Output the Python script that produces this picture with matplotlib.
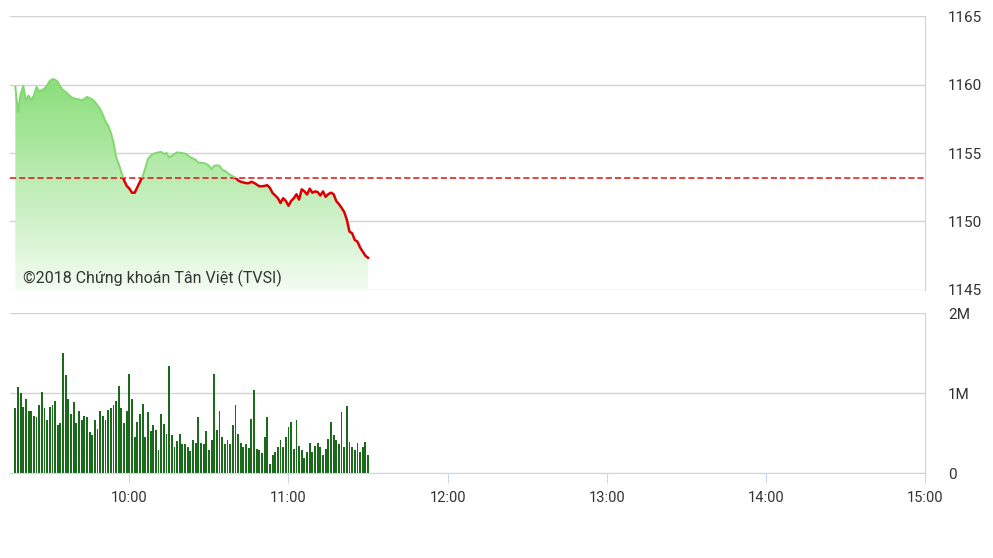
import numpy as np
import pandas as pd
import matplotlib
matplotlib.use("Agg")
import matplotlib.pyplot as plt
from matplotlib.colors import LinearSegmentedColormap
from matplotlib.patches import Polygon, Rectangle

plt.rcParams['font.family'] = ['Roboto', 'DejaVu Sans']

# session data, one point per minute from 09:17
start_time = "09:17"
price = [
    1159.83, 1158.0, 1159.3, 1159.9, 1158.85, 1159.2, 1158.85, 1159.2, 1159.83, 1159.5,
    1159.6, 1159.7, 1159.95, 1160.27, 1160.4, 1160.35, 1160.2, 1159.83, 1159.6, 1159.46,
    1159.26, 1159.1, 1159.0, 1158.95, 1158.92, 1158.85, 1158.95, 1159.1, 1159.0, 1158.92,
    1158.73, 1158.48, 1158.2, 1157.8, 1157.3, 1157.0, 1156.5, 1155.8, 1154.7, 1154.2,
    1153.6, 1153.0, 1152.6, 1152.4, 1152.1, 1152.1, 1152.5, 1152.9, 1153.3, 1153.9,
    1154.56, 1154.8, 1154.93, 1155.0, 1155.05, 1155.08, 1154.93, 1155.0, 1154.68, 1154.8,
    1154.93, 1155.05, 1155.02, 1155.0, 1154.95, 1154.85, 1154.68, 1154.6, 1154.5, 1154.3,
    1154.3, 1154.27, 1154.2, 1154.07, 1153.82, 1154.07, 1154.1, 1154.07, 1153.77, 1153.7,
    1153.55, 1153.4, 1153.3, 1153.2, 1153.0, 1152.9, 1152.85, 1152.8, 1152.8, 1152.9,
    1152.82, 1152.7, 1152.57, 1152.57, 1152.6, 1152.65, 1152.45, 1152.08, 1151.9, 1151.7,
    1151.35, 1151.7, 1151.5, 1151.15, 1151.5, 1151.7, 1151.99, 1151.6, 1152.35, 1152.2,
    1151.97, 1152.4, 1152.1, 1152.2, 1152.15, 1151.9, 1152.2, 1151.8, 1152.0, 1152.1,
    1152.0, 1151.5, 1151.27, 1151.0, 1150.7, 1150.12, 1149.26, 1149.14, 1148.65, 1148.53,
    1148.1, 1147.8, 1147.5, 1147.35,
]
# volume in millions of shares
volume = [
    0.81, 1.07, 1.00, 0.83, 0.93, 0.78, 0.78, 0.71, 0.70, 0.85, 1.01, 0.81, 0.66, 0.83, 0.85,
    0.90, 0.60, 0.62, 1.50, 1.23, 0.93, 0.74, 0.89, 0.62, 0.78, 0.66, 0.71, 0.70, 0.51, 0.48,
    0.66, 0.55, 0.78, 0.71, 0.66, 0.79, 0.81, 0.85, 0.90, 1.09, 0.81, 0.63, 0.78, 1.24,
    0.93, 0.45, 0.64, 0.74, 0.86, 0.45, 0.76, 0.53, 0.60, 0.54, 0.29, 0.74, 0.61, 0.49, 1.34,
    0.48, 0.33, 0.40, 0.49, 0.36, 0.36, 0.33, 0.27, 0.41, 0.37, 0.70, 0.37, 0.36, 0.53, 0.29,
    0.41, 1.24, 0.54, 0.78, 0.45, 0.36, 0.41, 0.36, 0.60, 0.85, 0.49, 0.37, 0.33, 0.36, 0.31,
    0.68, 1.04, 0.30, 0.29, 0.25, 0.45, 0.70, 0.11, 0.22, 0.26, 0.33, 0.41, 0.33, 0.45, 0.57,
    0.64, 0.30, 0.66, 0.34, 0.29, 0.19, 0.26, 0.37, 0.26, 0.34, 0.37, 0.32, 0.22, 0.30, 0.43,
    0.64, 0.48, 0.41, 0.36, 0.76, 0.32, 0.84, 0.39, 0.32, 0.29, 0.37, 0.26, 0.32, 0.39, 0.23,
]
reference = 1153.2
price_ticks = [1145, 1150, 1155, 1160, 1165]
volume_ticks = [0, 1, 2]
volume_labels = ["0", "1M", "2M"]
hour_labels = ["10:00", "11:00", "12:00", "13:00", "14:00", "15:00"]
session = ("09:15", "15:00")
note = "©2018 Chứng khoán Tân Việt (TVSI)"


def minutes(hhmm):
    h, m = hhmm.split(":")
    return int(h) * 60 + int(m)


times = pd.date_range("2018-01-01 " + start_time, periods=len(price), freq="min")
x = np.array(times.hour * 60 + times.minute)
xmin, xmax = minutes(session[0]), minutes(session[1])
hour_pos = [minutes(h) for h in hour_labels]

axis_col = "#ccd6eb"
grid_col = "#d3d3d3"
text_col = "#333333"

fig = plt.figure(figsize=(9.93, 5.58), dpi=100)
ax = fig.add_axes([0.0101, 0.4803, 0.9214, 0.491])
ax2 = fig.add_axes([0.0101, 0.1523, 0.9214, 0.2867])

# price panel
ax.set_xlim(xmin, xmax)
ax.set_ylim(price_ticks[0], price_ticks[-1])

cmap = LinearSegmentedColormap.from_list("fade", ["#f3fcf1", "#8ade7a"])
grad = np.linspace(0, 1, 256).reshape(-1, 1)
im = ax.imshow(grad, extent=[x[0], x[-1], price_ticks[0], max(price)], origin="lower",
               aspect="auto", cmap=cmap, zorder=1)
verts = [(x[0], price_ticks[0])] + list(zip(x, price)) + [(x[-1], price_ticks[0])]
area = Polygon(verts, closed=True, facecolor="none", edgecolor="none")
ax.add_patch(area)
im.set_clip_path(area)

ax.axhline(reference, color="#dd1111", lw=1.1, ls=(0, (4, 2)), zorder=3)

up, = ax.plot(x, price, color="#82d86f", lw=1.4, zorder=4)
up.set_clip_path(Rectangle((xmin, reference), xmax - xmin, 50, transform=ax.transData))
down, = ax.plot(x, price, color="#dd0000", lw=1.8, zorder=4)
down.set_clip_path(Rectangle((xmin, reference - 50), xmax - xmin, 50, transform=ax.transData))

ax.text(minutes("09:20"), 1145.5, note, fontsize=11.5, color="#333333", zorder=5)

ax.set_yticks(price_ticks)
ax.set_xticks([])
ax.grid(axis="y", color=grid_col, lw=1)
ax.set_axisbelow(True)

# volume panel
ax2.bar(x, volume, width=0.7, color="#1b6a1b")
ax2.set_xlim(xmin, xmax)
ax2.set_ylim(volume_ticks[0], volume_ticks[-1])
ax2.set_yticks(volume_ticks)
ax2.set_yticklabels(volume_labels)
ax2.set_xticks(hour_pos)
ax2.set_xticklabels(hour_labels)
ax2.grid(axis="y", color=grid_col, lw=1)
ax2.set_axisbelow(True)

for a in (ax, ax2):
    for s in ("left", "top"):
        a.spines[s].set_visible(False)
    a.spines["right"].set_color(axis_col)
    a.tick_params(axis="y", left=False, right=False, labelleft=False, labelright=True,
                  pad=13, labelsize=11, labelcolor=text_col)
ax.spines["bottom"].set_visible(False)
ax2.spines["bottom"].set_color(axis_col)
ax2.tick_params(axis="x", direction="out", length=7, color=axis_col, pad=6,
                labelsize=10.5, labelcolor=text_col)

fig.savefig("out.png", dpi=100)
